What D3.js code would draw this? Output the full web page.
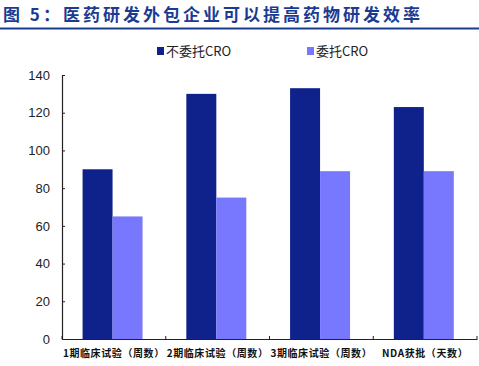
<!DOCTYPE html>
<html>
<head>
<meta charset="utf-8">
<script src="https://cdn.jsdelivr.net/npm/d3@7"></script>
<style>
  body { margin: 0; background: #fff; }
  svg { display: block; }
</style>
</head>
<body>
<script>
const categories = ["1期临床试验（周数）", "2期临床试验（周数）", "3期临床试验（周数）", "NDA获批（天数）"];
const seriesNames = ["不委托CRO", "委托CRO"];
const noCro = [90, 130, 133, 123];
const withCro = [65, 75, 89, 89];
const yTicks = [0, 20, 40, 60, 80, 100, 120, 140];
const title = "图 5：医药研发外包企业可以提高药物研发效率";

const width = 479;
const height = 366;
const colors = ["#0f228c", "#7878ff"];

const svg = d3.select("body")
  .append("svg")
  .attr("width", width)
  .attr("height", height);

// Title and rule under it
svg.append("text")
  .attr("x", 3)
  .attr("y", 21)
  .attr("fill", "#1b3b93")
  .style("font-family", "'Noto Sans CJK SC', sans-serif")
  .style("font-weight", "bold")
  .style("font-size", "17px")
  .style("letter-spacing", "3px")
  .text(title);

svg.append("line")
  .attr("x1", 0).attr("x2", width)
  .attr("y1", 28.5).attr("y2", 28.5)
  .attr("stroke", "#1b3b93")
  .attr("stroke-width", 2);

// Scales
const plotLeft = 62, plotRight = 477, plotTop = 75, plotBottom = 339;

const x = d3.scaleBand()
  .domain(categories)
  .range([plotLeft, plotRight]);

const xInner = d3.scaleBand()
  .domain(seriesNames)
  .range([0, x.bandwidth()])
  .paddingOuter(0.73)
  .align(0.47);

const y = d3.scaleLinear()
  .domain([0, 140])
  .range([plotBottom, plotTop]);

// Bars
const rows = categories.map((c, i) => ({ cat: c, values: [noCro[i], withCro[i]] }));

const groups = svg.selectAll("g.group")
  .data(rows)
  .enter()
  .append("g")
  .attr("class", "group")
  .attr("transform", (d) => `translate(${x(d.cat)},0)`);

groups.selectAll("rect")
  .data((d) => d.values.map((v, j) => ({ name: seriesNames[j], v: v, j: j })))
  .enter()
  .append("rect")
  .attr("x", (d) => xInner(d.name))
  .attr("y", (d) => y(d.v))
  .attr("width", xInner.bandwidth())
  .attr("height", (d) => plotBottom - y(d.v))
  .attr("fill", (d) => colors[d.j]);

// Y axis
const yAxis = d3.axisRight(y)
  .tickValues(yTicks)
  .tickSize(3)
  .tickFormat((d) => d);

const yg = svg.append("g")
  .attr("transform", `translate(${plotLeft},0)`)
  .call(yAxis);
yg.select(".domain").attr("stroke", "#222").attr("stroke-width", 1.2);
yg.selectAll(".tick line").attr("stroke", "#222");
yg.selectAll(".tick text")
  .attr("x", -12)
  .attr("text-anchor", "end")
  .attr("fill", "#222")
  .style("font-family", "Arial, 'Liberation Sans', sans-serif")
  .style("font-size", "13px");

// X axis
const xAxis = d3.axisTop(x).tickSize(0).tickFormat("");
const xg = svg.append("g")
  .attr("transform", `translate(0,${plotBottom})`)
  .call(xAxis);
xg.select(".domain").attr("stroke", "#222").attr("stroke-width", 1.2);

// boundary ticks between categories
svg.selectAll("line.bt")
  .data(categories.map((c) => x(c)).concat([plotRight]))
  .enter()
  .append("line")
  .attr("class", "bt")
  .attr("x1", (d) => d).attr("x2", (d) => d)
  .attr("y1", plotBottom).attr("y2", plotBottom - 3)
  .attr("stroke", "#222");

svg.selectAll("text.xl")
  .data(categories)
  .enter()
  .append("text")
  .attr("class", "xl")
  .attr("x", (d) => x(d) + x.bandwidth() / 2)
  .attr("y", 357)
  .attr("text-anchor", "middle")
  .attr("fill", "#111")
  .style("font-family", "'Noto Sans CJK SC', sans-serif")
  .style("font-weight", "bold")
  .style("font-size", "10px")
  .style("letter-spacing", "0.6px")
  .text((d) => d);

// Legend
const legendX = [157, 307];
const legend = svg.selectAll("g.legend")
  .data(seriesNames)
  .enter()
  .append("g")
  .attr("class", "legend")
  .attr("transform", (d, i) => `translate(${legendX[i]},47)`);

legend.append("rect")
  .attr("width", 7).attr("height", 8)
  .attr("fill", (d, i) => colors[i]);

legend.append("text")
  .attr("x", 9)
  .attr("y", 9)
  .attr("fill", "#222")
  .style("font-family", "'Noto Sans CJK SC', Arial, sans-serif")
  .style("font-size", "13px")
  .text((d) => d);
</script>
</body>
</html>
